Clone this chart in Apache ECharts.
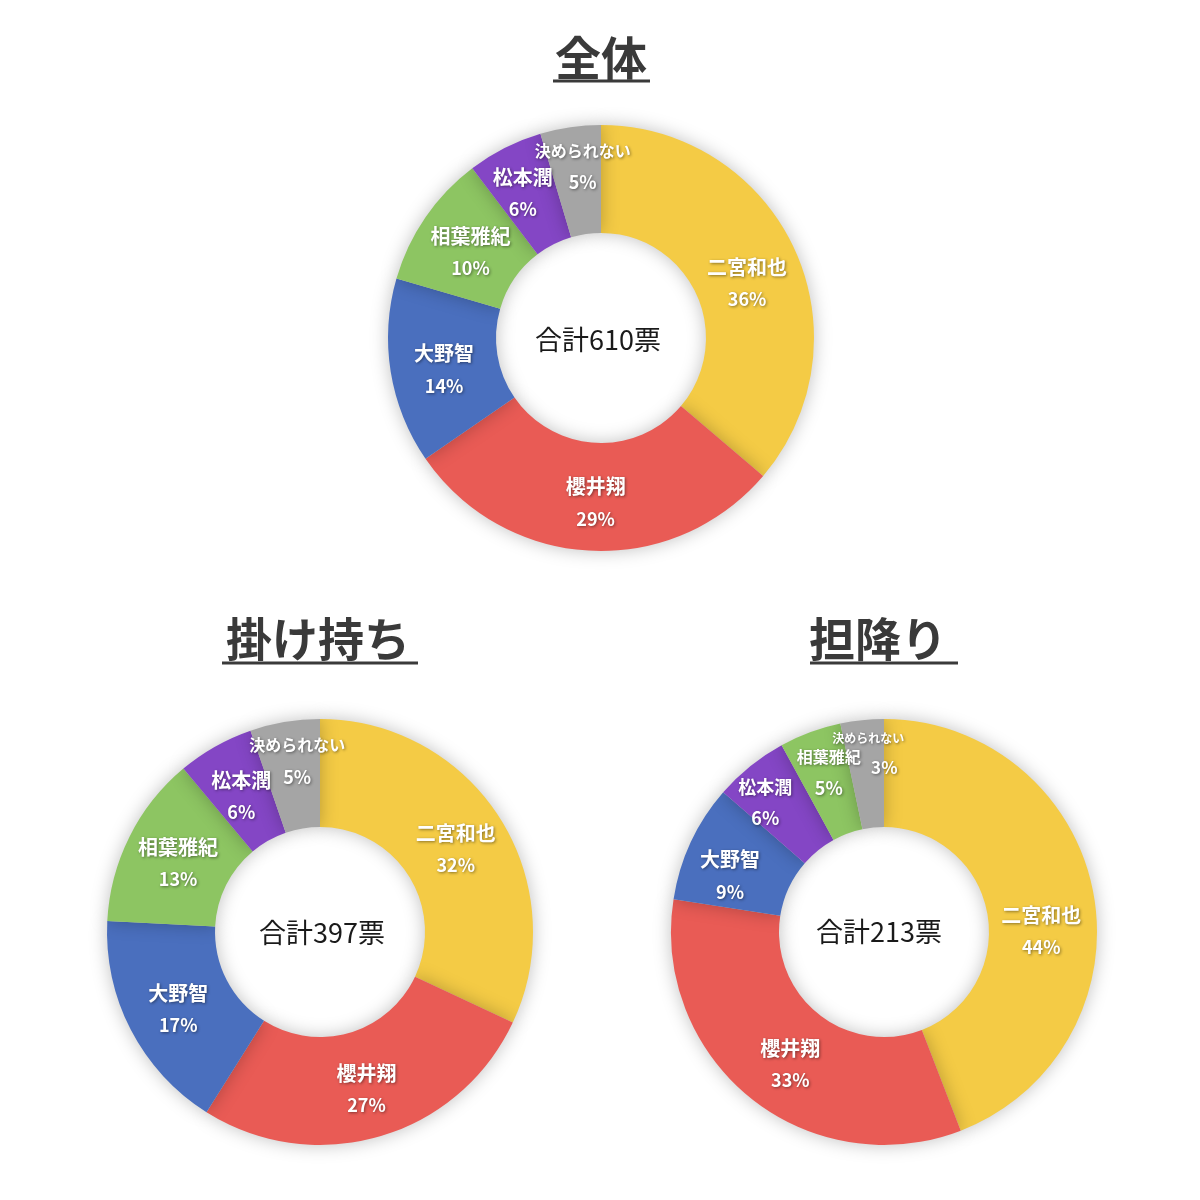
<!DOCTYPE html>
<html lang="ja">
<head>
    <meta charset="UTF-8">
    <title>嵐 アンケート</title>
    <style>
        *{ margin: 0; padding: 0; }
        body{ background: #FFFFFF; }
        #main{ width: 1200px; height: 1200px; }
    </style>
</head>
<body>
<div id="main"></div>
<script src="https://cdn.jsdelivr.net/npm/echarts@6/dist/echarts.min.js"></script>
<script>
    // 区分と票数
    let members = ['二宮和也', '櫻井翔', '大野智', '相葉雅紀', '松本潤', '決められない'];
    let colors = ['#F4CB45', '#E95B55', '#4A6FBE', '#8DC562', '#8446C5', '#A5A5A5'];
    let kakemochi = [127, 107, 67, 52, 23, 21];
    let tanfuri = [94, 71, 19, 10, 12, 7];
    let zentai = [];
    for(let i = 0;i<members.length;i++){
        zentai.push(kakemochi[i] + tanfuri[i]);
    }
    let chartTitles = ['全体', '掛け持ち', '担降り'];

    // ラベルの微調整 [dx, dy]（名前順）
    let labelShift = [
        [[-1, 13], [3, 3], [3, 6], [3, 6], [-5, 0], [5, -11]],
        [[-1, 4], [1, 2], [2, 3], [3, 4], [1, 5], [4, -11]],
        [[-2, 29], [8, 6], [-7, 12], [1, -7], [-17, -3], [1, -16]]
    ];
    // 名前の文字サイズ（小さい扇形のみ）
    let nameSizes = [
        {'決められない': 16},
        {'決められない': 16},
        {'決められない': 12, '相葉雅紀': 16, '松本潤': 18}
    ];

    function sum(arr){
        let s = 0;
        for(let i = 0;i<arr.length;i++){ s += arr[i]; }
        return s;
    }

    // 票の多い順（「決められない」は最後）
    function makeData(idx, values){
        let data = [];
        for(let i = 0;i<members.length;i++){
            let item = {name: members[i], value: values[i], itemStyle: {color: colors[i]}};
            let fs = nameSizes[idx][members[i]];
            if(fs){
                item.label = {rich: {n: {fontSize: fs, lineHeight: fs < 14 ? 26 : 31}}};
                if(idx === 2 && members[i] === '決められない'){
                    item.label.rich.p = {fontSize: 17, padding: [0, 0, 0, 32]};
                }
            }
            data.push(item);
        }
        data.sort(function(a, b){
            if(a.name === '決められない') return 1;
            if(b.name === '決められない') return -1;
            return b.value - a.value;
        });
        return data;
    }

    let shadow = {
        textShadowColor: 'rgba(0,0,0,0.45)', textShadowBlur: 3,
        textShadowOffsetX: 1, textShadowOffsetY: 1
    };
    let labelStyle = {
        show: true,
        position: 'inside',
        formatter: function(p){
            return '{n|' + p.name + '}\n{p|' + Math.round(p.percent) + '%}';
        },
        rich: {
            n: Object.assign({fontFamily: 'Noto Sans CJK JP', fontWeight: 'bold', fontSize: 20, color: '#FFFFFF', lineHeight: 32}, shadow),
            p: Object.assign({fontFamily: 'Noto Sans CJK JP', fontWeight: 'bold', fontSize: 18, color: '#FFFFFF', lineHeight: 32}, shadow)
        }
    };

    function donut(idx, values, center){
        let data = makeData(idx, values);
        return {
            name: chartTitles[idx],
            type: 'pie',
            radius: [105, 213],
            center: center,
            startAngle: 90,
            clockwise: true,
            avoidLabelOverlap: false,
            silent: true,
            label: labelStyle,
            labelLine: {show: false},
            labelLayout: function(params){
                let k = members.indexOf(data[params.dataIndex].name);
                return {hideOverlap: false, dx: labelShift[idx][k][0], dy: labelShift[idx][k][1]};
            },
            itemStyle: {
                borderWidth: 0,
                shadowBlur: 18,
                shadowColor: 'rgba(0,0,0,0.25)'
            },
            data: data
        };
    }

    function titleText(text, x, y){
        return {
            type: 'text', x: x, y: y, z: 10,
            style: {
                text: text, align: 'center', verticalAlign: 'middle',
                fontFamily: 'Noto Sans CJK JP', fontWeight: 'bold', fontSize: 46, fill: '#3A3A3A'
            }
        };
    }
    function centerText(values, x, y){
        return {
            type: 'text', x: x, y: y, z: 10,
            style: {
                text: '合計' + sum(values) + '票', align: 'center', verticalAlign: 'middle',
                fontFamily: 'Noto Sans CJK JP', fontWeight: 'normal', fontSize: 27, fill: '#1A1A1A'
            }
        };
    }
    function underline(x1, x2, y){
        return {type: 'line', shape: {x1: x1, y1: y, x2: x2, y2: y}, style: {stroke: '#3A3A3A', lineWidth: 3}};
    }

    let myChart = echarts.init(document.getElementById('main'));
    myChart.setOption({
        backgroundColor: '#FFFFFF',
        animation: false,
        graphic: [
            titleText(chartTitles[0], 601, 58),
            titleText(chartTitles[1], 318, 639),
            titleText(chartTitles[2], 878, 639),
            underline(553, 650, 81),
            underline(222, 418, 663),
            underline(810, 958, 663),
            centerText(zentai, 598, 340),
            centerText(kakemochi, 322, 933),
            centerText(tanfuri, 879, 932)
        ],
        series: [
            donut(0, zentai, [601, 338]),
            donut(1, kakemochi, [320, 932]),
            donut(2, tanfuri, [884, 932])
        ]
    });
</script>
</body>
</html>
